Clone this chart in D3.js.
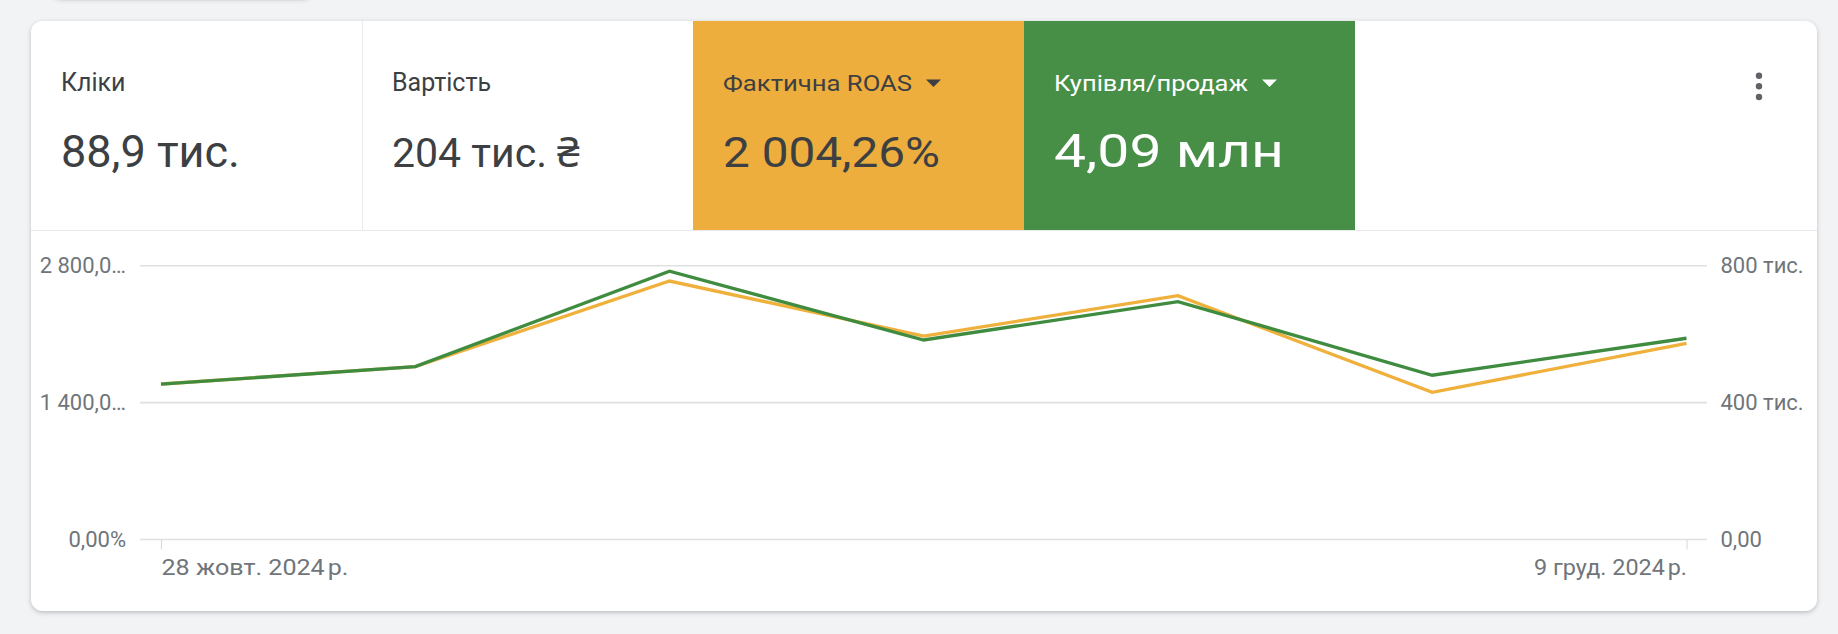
<!DOCTYPE html>
<html>
<head>
<meta charset="utf-8">
<script src="https://cdn.jsdelivr.net/npm/d3@7"></script>
<style>
  body { margin: 0; background: #f1f3f4; font-family: Roboto, "Noto Sans", sans-serif; }
  svg { display: block; }
</style>
</head>
<body>
<svg id="chart"></svg>
<script>
// data
const weeks = ["2024-10-28", "2024-11-04", "2024-11-11", "2024-11-18", "2024-11-25", "2024-12-02", "2024-12-09"];
const roas = [1590, 1767, 2643, 2081, 2493, 1505, 2006];
const purchases = [454000, 505000, 784000, 583000, 695000, 480000, 588000];

const tileLabels = ["Кліки", "Вартість", "Фактична ROAS", "Купівля/продаж"];
const tileValues = ["88,9 тис.", "204 тис. ₴", "2 004,26%", "4,09 млн"];

const leftTicks = [0, 1400, 2800];
const leftTickLabels = ["0,00%", "1 400,0…", "2 800,0…"];
const rightTicks = [0, 400000, 800000];
const rightTickLabels = ["0,00", "400 тис.", "800 тис."];
const xTicks = ["2024-10-28", "2024-12-09"];
const xTickLabels = ["28 жовт. 2024\u202Fр.", "9 груд. 2024\u202Fр."];

// layout / style
const W = 1838, H = 634;
const card = { x: 31, y: 21, w: 1786, h: 590, r: 12 };
const tileW = 331, tileH = 209;
const tileFill = ["#ffffff", "#ffffff", "#edae3d", "#478e47"];
const tileInk = ["#3c4043", "#3c4043", "#3c4043", "#ffffff"];
const labelSize = [25, 25, 22, 22];
const labelWidth = [null, null, 189, 194];   // selected tiles use a wider face
const valueSize = [45, 41, 42, 47];
const valueWidth = [null, null, 217, 230];
const xLabelWidth = [187, 153];
const hasArrow = [false, false, true, true];
const orange = "#efb03c", green = "#3f8c40";
const axisInk = "#70757a";

const svg = d3.select("#chart").attr("width", W).attr("height", H);
const defs = svg.append("defs");

const shadow = defs.append("filter").attr("id", "shadow")
  .attr("x", "-5%").attr("y", "-10%").attr("width", "110%").attr("height", "125%");
shadow.append("feDropShadow")
  .attr("dx", 0).attr("dy", 1.5).attr("stdDeviation", 2)
  .attr("flood-color", "#3c4043").attr("flood-opacity", 0.32);

defs.append("clipPath").attr("id", "cardClip")
  .append("rect")
  .attr("x", card.x).attr("y", card.y)
  .attr("width", card.w).attr("height", card.h)
  .attr("rx", card.r);

// faint shadow of the element above the crop
svg.append("rect")
  .attr("x", 53).attr("y", -60).attr("width", 258).attr("height", 58)
  .attr("rx", 8).attr("fill", "#f1f3f4")
  .attr("filter", "url(#shadow)");

// card
svg.append("rect")
  .attr("x", card.x).attr("y", card.y)
  .attr("width", card.w).attr("height", card.h)
  .attr("rx", card.r).attr("fill", "#fff")
  .attr("filter", "url(#shadow)");

// scorecard tiles
const tiles = svg.append("g").attr("clip-path", "url(#cardClip)")
  .selectAll("g.tile")
  .data(tileLabels)
  .join("g")
  .attr("class", "tile")
  .attr("transform", (d, i) => `translate(${card.x + i * tileW},${card.y})`);

tiles.append("rect")
  .attr("width", tileW).attr("height", tileH)
  .attr("fill", (d, i) => tileFill[i]);

tiles.append("text")
  .attr("class", "tile-label")
  .attr("x", 30).attr("y", 70.3)
  .attr("fill", (d, i) => tileInk[i])
  .style("font-size", (d, i) => labelSize[i] + "px")
  .each(function (d, i) {
    if (labelWidth[i]) d3.select(this).attr("textLength", labelWidth[i]).attr("lengthAdjust", "spacingAndGlyphs");
  })
  .text(d => d);

tiles.append("text")
  .attr("x", 30).attr("y", 145.5)
  .attr("fill", (d, i) => tileInk[i])
  .style("font-size", (d, i) => valueSize[i] + "px")
  .each(function (d, i) {
    if (valueWidth[i]) d3.select(this).attr("textLength", valueWidth[i]).attr("lengthAdjust", "spacingAndGlyphs");
  })
  .text((d, i) => tileValues[i]);

// dropdown arrows next to the selected metrics
tiles.each(function (d, i) {
  if (!hasArrow[i]) return;
  const g = d3.select(this);
  const tw = labelWidth[i] || g.select("text.tile-label").node().getComputedTextLength();
  const ax = 30 + tw + 14;
  g.append("path")
    .attr("d", `M${ax},58.5 h15 l-7.5,7.5 z`)
    .attr("fill", tileInk[i]);
});

// dividers
svg.append("line")
  .attr("x1", card.x + tileW + 0.5).attr("x2", card.x + tileW + 0.5)
  .attr("y1", card.y).attr("y2", card.y + tileH)
  .attr("stroke", "#e8eaed").attr("stroke-width", 1);
svg.append("line")
  .attr("x1", card.x).attr("x2", card.x + card.w)
  .attr("y1", card.y + tileH + 0.5).attr("y2", card.y + tileH + 0.5)
  .attr("stroke", "#e8eaed").attr("stroke-width", 1);

// kebab menu
svg.append("g").selectAll("circle")
  .data([75.7, 86.3, 97])
  .join("circle")
  .attr("cx", 1759).attr("cy", d => d).attr("r", 3.2)
  .attr("fill", "#5f6368");

// chart scales
const x = d3.scalePoint().domain(weeks).range([161, 1686.5]);
const yL = d3.scaleLinear().domain([0, 2800]).range([539.5, 265.7]);
const yR = d3.scaleLinear().domain([0, 800000]).range([539.5, 265.7]);

// gridlines
svg.append("g").selectAll("line")
  .data(leftTicks)
  .join("line")
  .attr("x1", 140).attr("x2", 1707)
  .attr("y1", d => yL(d)).attr("y2", d => yL(d))
  .attr("stroke", "#e0e0e0").attr("stroke-width", 1.6);

function styleAxis(g) {
  g.attr("font-family", null).attr("font-size", null);
  g.select(".domain").remove();
  g.selectAll("text")
    .attr("fill", axisInk)
    .style("font-size", "22px");
}

svg.append("g")
  .attr("transform", "translate(140,0)")
  .call(d3.axisLeft(yL).tickValues(leftTicks)
    .tickFormat((d, i) => leftTickLabels[i]).tickSize(0).tickPadding(14))
  .call(styleAxis);

svg.append("g")
  .attr("transform", "translate(1707,0)")
  .call(d3.axisRight(yR).tickValues(rightTicks)
    .tickFormat((d, i) => rightTickLabels[i]).tickSize(0).tickPadding(13.5))
  .call(styleAxis);

const xAxis = svg.append("g")
  .attr("transform", "translate(0,539.5)")
  .call(d3.axisBottom(x).tickValues(xTicks)
    .tickFormat((d, i) => xTickLabels[i]).tickSize(10).tickPadding(10))
  .call(styleAxis);
xAxis.selectAll(".tick line").attr("stroke", "#dadce0").attr("stroke-width", 1.2);
xAxis.selectAll(".tick text")
  .attr("text-anchor", (d, i) => i === 0 ? "start" : "end")
  .attr("textLength", (d, i) => xLabelWidth[i])
  .attr("lengthAdjust", "spacingAndGlyphs");

// series
const lineL = d3.line().x((d, i) => x(weeks[i])).y(d => yL(d));
const lineR = d3.line().x((d, i) => x(weeks[i])).y(d => yR(d));

svg.append("path")
  .datum(roas)
  .attr("d", lineL)
  .attr("fill", "none")
  .attr("stroke", orange)
  .attr("stroke-width", 3.3);

svg.append("path")
  .datum(purchases)
  .attr("d", lineR)
  .attr("fill", "none")
  .attr("stroke", green)
  .attr("stroke-width", 3.3);
</script>
</body>
</html>
